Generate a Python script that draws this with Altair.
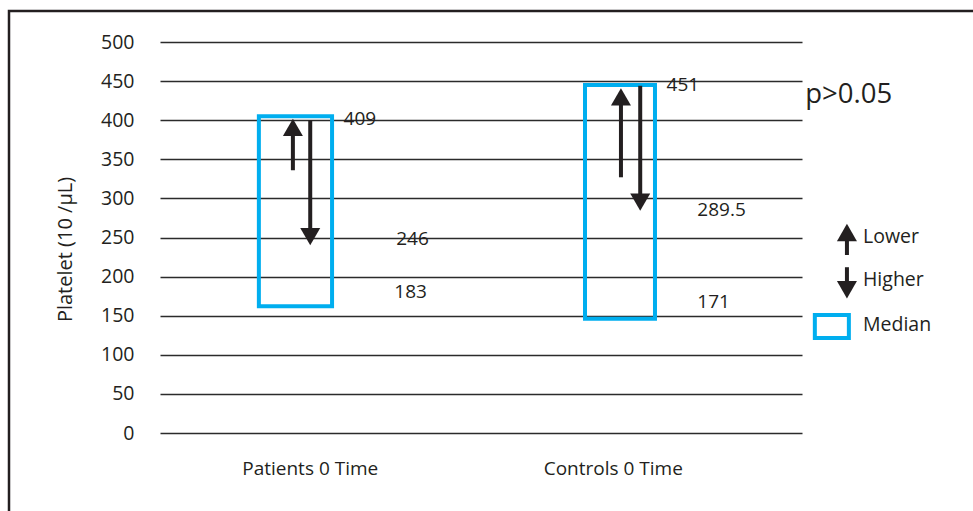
import altair as alt
import pandas as pd

# ---- data ----
categories = ["Patients 0 Time", "Controls 0 Time"]
cat_label_x = [2.34, 7.06]
box_left = [1.54, 6.62]
box_right = [2.68, 7.71]
box_low = [162, 146]
box_high = [405, 445]
up_x = [2.07, 7.18]
up_start = [336, 327]
up_tip = [403, 442]
down_x = [2.34, 7.48]
down_start = [400, 444]
down_tip = [239, 283]
value_labels = ["409", "246", "183", "451", "289.5", "171"]
value_label_x = [2.86, 3.68, 3.65, 7.89, 8.37, 8.37]
value_label_y = [401.5, 248, 180, 445, 285, 167.5]
y_ticks = list(range(0, 501, 50))

legend_labels = ["Lower", "Higher", "Median"]
legend_label_x = [10.95, 10.95, 10.95]
legend_label_y = [250.6, 195.7, 138]
legend_arrow_x = [10.70, 10.70]
legend_arrow_dir = ["up", "down"]
legend_arrow_start = [227.6, 212]
legend_arrow_tip = [268.5, 171]
legend_box = dict(x=10.20, x2=10.73, y=121.5, y2=151)
p_text = "p>0.05"
p_pos = (10.05, 432)

FONT = "Open Sans"
TXT = "#231f20"
BLUE = "#00AEEF"
HEAD = 9.5  # px from apex to centre of arrowhead triangle

xs = alt.Scale(domain=[0, 10], nice=False, zero=False)
ys = alt.Scale(domain=[0, 500], nice=False, zero=False)
y_axis = alt.Axis(
    values=y_ticks, title="Platelet (10 /µL)", grid=True, gridColor="#2b2b2b",
    gridWidth=1.3, domain=False, ticks=False, labelPadding=26,
    labelFont=FONT, labelFontSize=19.5, labelColor=TXT,
    titleFont=FONT, titleFontSize=20, titleColor=TXT, titleFontWeight="normal",
    titleX=-95, titleY=207, titleAngle=-90, titleAlign="center", titleBaseline="middle"
)

def X(f):
    return alt.X(f, scale=xs, axis=None)

def Y(f):
    return alt.Y(f, scale=ys, axis=y_axis)

# ---- tables ----
boxes = pd.DataFrame({"cat": categories, "x": box_left, "x2": box_right,
                      "y": box_low, "y2": box_high})
arrows = []
for i in range(len(categories)):
    arrows.append({"x": up_x[i], "start": up_start[i], "tip": up_tip[i], "dir": "up"})
    arrows.append({"x": down_x[i], "start": down_start[i], "tip": down_tip[i], "dir": "down"})
for i in range(len(legend_arrow_x)):
    arrows.append({"x": legend_arrow_x[i], "start": legend_arrow_start[i],
                   "tip": legend_arrow_tip[i], "dir": legend_arrow_dir[i]})
arrows = pd.DataFrame(arrows)
arrows["stem_end"] = arrows.apply(lambda r: r["tip"] - 10 if r["dir"] == "up" else r["tip"] + 10, axis=1)

vlabels = pd.DataFrame({"t": value_labels, "x": value_label_x, "y": value_label_y})
clabels = pd.DataFrame({"t": categories, "x": cat_label_x, "y": [-46, -46]})
llabels = pd.DataFrame({"t": legend_labels, "x": legend_label_x, "y": legend_label_y})
lbox = pd.DataFrame([legend_box])
ptext = pd.DataFrame({"t": [p_text], "x": [p_pos[0]], "y": [p_pos[1]]})

# ---- layers ----
frame = alt.Chart(pd.DataFrame({"a": [0]})).mark_rect(
    fill=None, stroke=TXT, strokeWidth=2.5
).encode(x=alt.value(-151), x2=alt.value(830), y=alt.value(-31), y2=alt.value(480))

box_layer = alt.Chart(boxes).mark_rect(fill=None, stroke=BLUE, strokeWidth=4).encode(
    x=X("x:Q"), x2="x2:Q", y=Y("y:Q"), y2="y2:Q"
)
legend_box_layer = alt.Chart(lbox).mark_rect(fill=None, stroke=BLUE, strokeWidth=4).encode(
    x=X("x:Q"), x2="x2:Q", y=Y("y:Q"), y2="y2:Q"
)

stems = alt.Chart(arrows).mark_rule(color=TXT, strokeWidth=4, strokeCap="butt").encode(
    x=X("x:Q"), y=Y("start:Q"), y2="stem_end:Q"
)
heads_up = alt.Chart(arrows).transform_filter(alt.datum.dir == "up").mark_point(
    shape="triangle-up", filled=True, size=400, color=TXT, opacity=1, yOffset=HEAD
).encode(x=X("x:Q"), y=Y("tip:Q"))
heads_down = alt.Chart(arrows).transform_filter(alt.datum.dir == "down").mark_point(
    shape="triangle-down", filled=True, size=400, color=TXT, opacity=1, yOffset=-HEAD
).encode(x=X("x:Q"), y=Y("tip:Q"))

def text_layer(df, size, align="left"):
    return alt.Chart(df).mark_text(
        font=FONT, fontSize=size, color=TXT, align=align, baseline="middle"
    ).encode(x=X("x:Q"), y=Y("y:Q"), text="t:N")

chart = alt.layer(
    frame, box_layer, stems, heads_up, heads_down, legend_box_layer,
    text_layer(vlabels, 19), text_layer(clabels, 19, "center"),
    text_layer(llabels, 19.5), text_layer(ptext, 27.5)
).properties(
    width=642, height=391,
    autosize=alt.AutoSizeParams(type="none"),
    padding={"left": 160, "top": 42, "right": 171, "bottom": 78},
    background="white"
).configure_view(stroke=None)

chart.save("out.html", embed_options={"renderer": "svg", "actions": False})
